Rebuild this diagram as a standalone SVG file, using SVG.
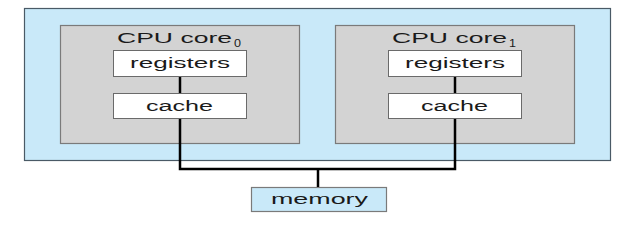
<svg xmlns="http://www.w3.org/2000/svg" width="640" height="229" viewBox="0 0 640 229">
<style>
.outer{fill:#c9e9f9;stroke:#4a5a66;stroke-width:1.2}
.core{fill:#d3d3d3;stroke:#7a7a7a;stroke-width:1.2}
.unit{fill:#ffffff;stroke:#6a6a6a;stroke-width:1}
.mem{fill:#c9e9f9;stroke:#7a7a7a;stroke-width:1.2}
.lbl{font-family:"Liberation Sans",Arial,sans-serif;font-size:14px;fill:#1a1a1a}
.sub{font-family:"Liberation Sans",Arial,sans-serif;font-size:11px;fill:#1a1a1a}
.wire{fill:none;stroke:#000;stroke-width:2.5}
</style>
<rect width="640" height="229" fill="#fff"/>
<g id="system">
<rect class="outer" x="24.5" y="8.5" width="586" height="152"/>
</g>
<g id="core0">
<rect class="core" x="60.5" y="25.5" width="239" height="118"/>
<text class="lbl" x="117" y="43" textLength="115" lengthAdjust="spacingAndGlyphs">CPU core</text>
<text class="sub" x="234" y="47" textLength="7" lengthAdjust="spacingAndGlyphs">0</text>
</g>
<g id="registers0">
<rect class="unit" x="113.5" y="50.5" width="133" height="26"/>
<text class="lbl" x="130" y="68" textLength="100" lengthAdjust="spacingAndGlyphs">registers</text>
</g>
<g id="cache0">
<rect class="unit" x="113.5" y="93.5" width="133" height="25"/>
<text class="lbl" x="146" y="110.5" textLength="67" lengthAdjust="spacingAndGlyphs">cache</text>
</g>
<g id="core1">
<rect class="core" x="335.5" y="25.5" width="239" height="118"/>
<text class="lbl" x="392" y="43" textLength="115" lengthAdjust="spacingAndGlyphs">CPU core</text>
<text class="sub" x="509" y="47" textLength="7" lengthAdjust="spacingAndGlyphs">1</text>
</g>
<g id="registers1">
<rect class="unit" x="388.5" y="50.5" width="133" height="26"/>
<text class="lbl" x="405" y="68" textLength="100" lengthAdjust="spacingAndGlyphs">registers</text>
</g>
<g id="cache1">
<rect class="unit" x="388.5" y="93.5" width="133" height="25"/>
<text class="lbl" x="421" y="110.5" textLength="67" lengthAdjust="spacingAndGlyphs">cache</text>
</g>
<g id="memory">
<rect class="mem" x="251.5" y="187.5" width="135" height="24"/>
<text class="lbl" x="271" y="204" textLength="97" lengthAdjust="spacingAndGlyphs">memory</text>
</g>
<g id="connectors">
<line class="wire" x1="180" y1="77" x2="180" y2="93"/>
<line class="wire" x1="455" y1="77" x2="455" y2="93"/>
<polyline class="wire" points="180,119 180,169 455,169 455,119"/>
<line class="wire" x1="318" y1="169" x2="318" y2="187"/>
</g>
</svg>
